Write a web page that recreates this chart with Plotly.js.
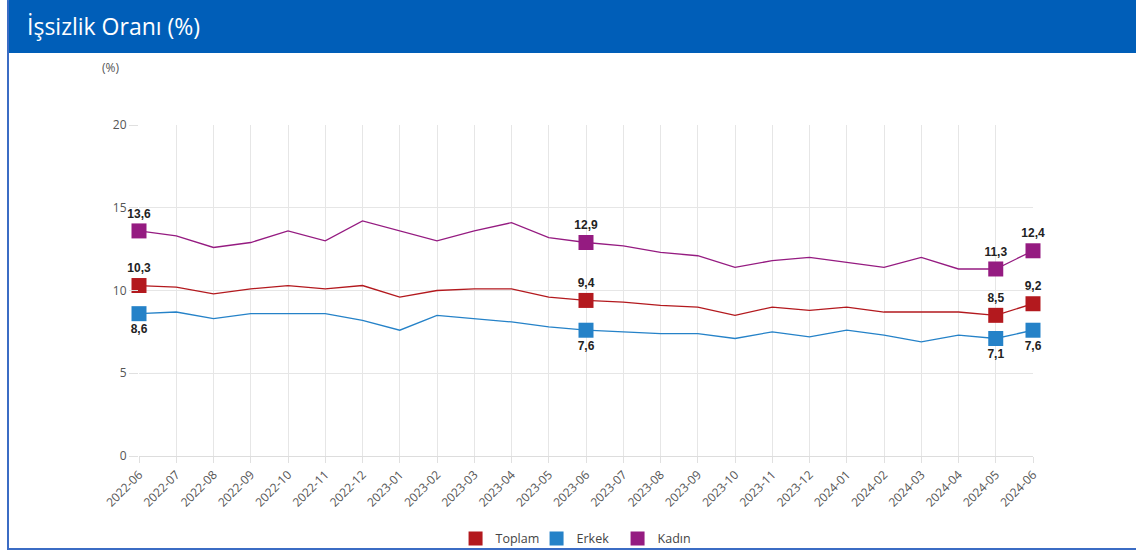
<!DOCTYPE html>
<html>
<head>
<meta charset="utf-8">
<script src="https://cdn.plot.ly/plotly-3.0.1.min.js"></script>
<style>
  html, body { margin: 0; padding: 0; background: #ffffff; }
  #card { position: absolute; left: 7px; top: 0; width: 1129px; height: 547px;
          border-left: 2px solid #3b6cc4; border-bottom: 2px solid #3b6cc4; border-top: 1px solid #4a78c8; box-sizing: content-box; }
  #header { position: absolute; left: 9px; top: 0; width: 1127px; height: 53px; background: #005eb8;
            color: #ffffff; font-family: "Open Sans", "Noto Sans", sans-serif; font-size: 23px;
            line-height: 53px; padding-left: 18px; box-sizing: border-box; }
  #chart { position: absolute; left: 0; top: 0; width: 1136px; height: 550px; }
</style>
</head>
<body>
<div id="card"></div>
<div id="header">İşsizlik Oranı (%)</div>
<div id="chart"></div>
<script>
const months = ["2022-06","2022-07","2022-08","2022-09","2022-10","2022-11","2022-12",
  "2023-01","2023-02","2023-03","2023-04","2023-05","2023-06","2023-07","2023-08","2023-09",
  "2023-10","2023-11","2023-12","2024-01","2024-02","2024-03","2024-04","2024-05","2024-06"];
const toplam = [10.3,10.2,9.8,10.1,10.3,10.1,10.3,9.6,10.0,10.1,10.1,9.6,9.4,9.3,9.1,9.0,8.5,9.0,8.8,9.0,8.7,8.7,8.7,8.5,9.2];
const erkek  = [8.6,8.7,8.3,8.6,8.6,8.6,8.2,7.6,8.5,8.3,8.1,7.8,7.6,7.5,7.4,7.4,7.1,7.5,7.2,7.6,7.3,6.9,7.3,7.1,7.6];
const kadin  = [13.6,13.3,12.6,12.9,13.6,13.0,14.2,13.6,13.0,13.6,14.1,13.2,12.9,12.7,12.3,12.1,11.4,11.8,12.0,11.7,11.4,12.0,11.3,11.3,12.4];
const labeledMonths = ["2022-06","2023-06","2024-05","2024-06"];
const seriesNames = ["Toplam","Erkek","Kadın"];
const colors = ["#b3191e","#2582c8","#951b81"];

function markerSizes() { return months.map(m => labeledMonths.includes(m) ? 15 : 0); }
function labels(vals) { return vals.map((v,i) => labeledMonths.includes(months[i]) ? v.toFixed(1).replace('.', ',') : ''); }

const allVals = [toplam, erkek, kadin];
const textPos = ["top center","bottom center","top center"];
const traces = [];
allVals.forEach((vals, k) => {
  traces.push({
    x: months, y: vals, type: 'scatter', mode: 'lines+markers+text',
    name: seriesNames[k], showlegend: false, cliponaxis: false,
    line: { color: colors[k], width: 1.3 },
    marker: { symbol: 'square', size: markerSizes(), color: colors[k], opacity: 1, line: { width: 0 } },
    text: labels(vals), textposition: textPos[k],
    textfont: { family: 'Liberation Sans, Arial, sans-serif', size: 12, color: '#222222', weight: 'bold' },
    hoverinfo: 'x+y+name'
  });
});
allVals.forEach((vals, k) => {
  traces.push({
    x: [null], y: [null], type: 'scatter', mode: 'markers', name: seriesNames[k], showlegend: true,
    marker: { symbol: 'square', size: 14, color: colors[k] }
  });
});

const layout = {
  width: 1136, height: 550,
  paper_bgcolor: 'rgba(0,0,0,0)', plot_bgcolor: 'rgba(0,0,0,0)',
  margin: { l: 139, r: 103, t: 125, b: 94, autoexpand: false },
  font: { family: 'Open Sans, Noto Sans, sans-serif', size: 12, color: '#555555' },
  xaxis: {
    type: 'category', range: [0, months.length - 1], automargin: false,
    showgrid: true, gridcolor: '#e6e6e6', gridwidth: 1,
    ticks: 'outside', ticklen: 6, tickcolor: '#e0e0e0',
    tickangle: -45, tickfont: { size: 12, color: '#555555' },
    showline: false, zeroline: false, fixedrange: true
  },
  yaxis: {
    range: [0, 20], dtick: 5, tick0: 0, automargin: false,
    showgrid: true, gridcolor: '#e6e6e6', gridwidth: 1,
    ticks: 'outside', ticklen: 9, tickcolor: '#e0e0e0',
    tickfont: { size: 12, color: '#555555' },
    zeroline: true, zerolinecolor: '#dddddd', zerolinewidth: 1,
    showline: false, fixedrange: true
  },
  showlegend: true,
  legend: {
    orientation: 'h', x: 0.49, xanchor: 'center', y: -0.25, yanchor: 'middle',
    font: { size: 12.5, color: '#444444' }, itemwidth: 30,
    entrywidth: 36, entrywidthmode: 'pixels'
  },
  annotations: [{
    xref: 'paper', yref: 'paper', x: -0.032, y: 1.175, xanchor: 'center', yanchor: 'middle',
    text: '(%)', showarrow: false, font: { size: 12, color: '#555555' }
  }],
  hovermode: 'closest'
};

Plotly.newPlot('chart', traces, layout, { displayModeBar: false });
</script>
</body>
</html>
